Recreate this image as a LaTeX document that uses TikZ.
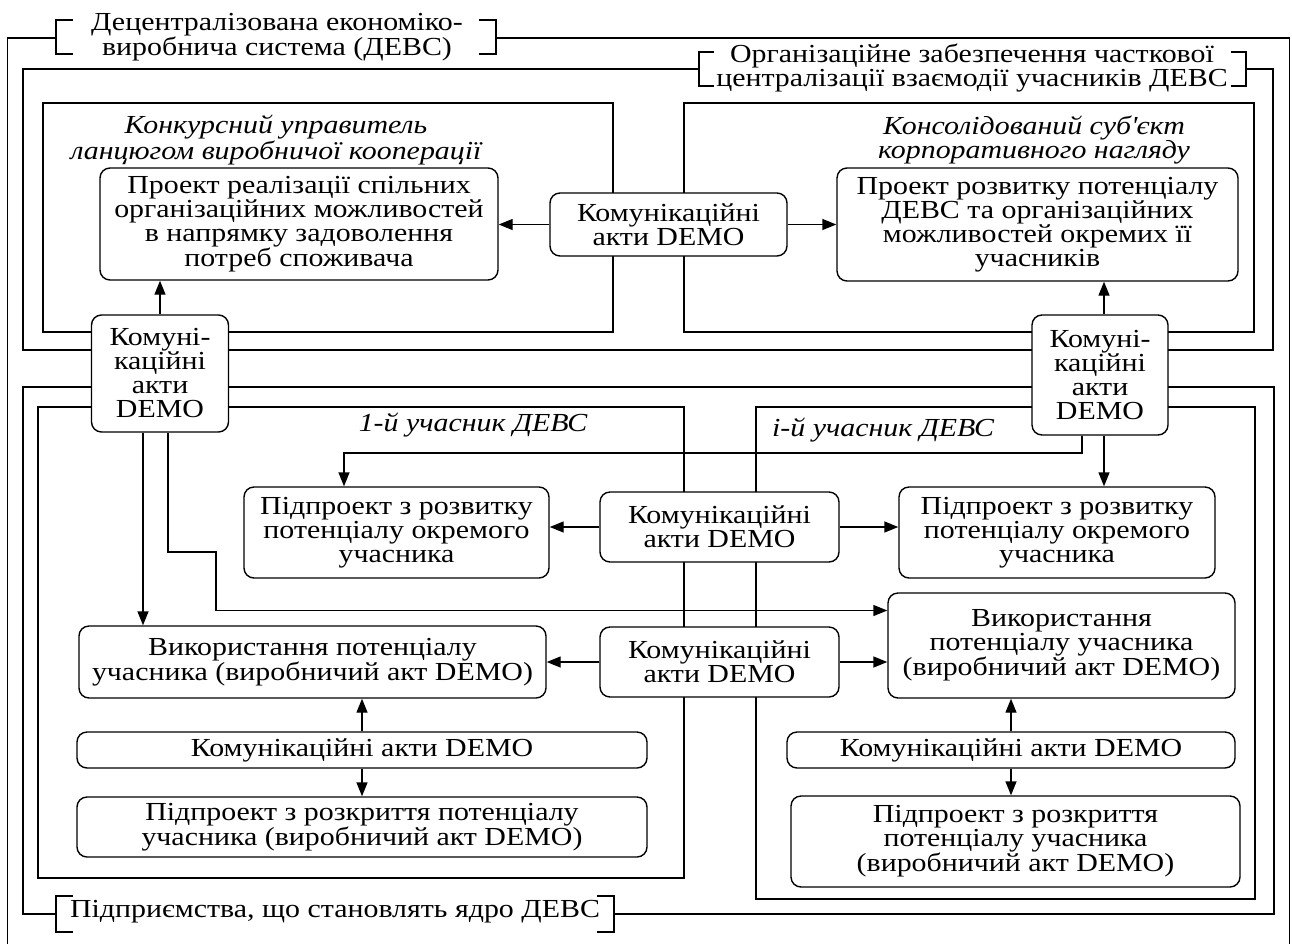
\documentclass[tikz,border=0pt]{standalone}
\usepackage{fontspec}
\setmainfont{Liberation Serif}[FakeStretch=1.15]
\usetikzlibrary{arrows.meta}

\begin{document}
\begin{tikzpicture}[x=1pt,y=-1pt,line width=1.4pt,
    every node/.style={font=\fontsize{26}{24}\selectfont},
    box/.style={draw,fill=white,rounded corners=10pt,align=center,inner sep=0pt},
    lbl/.style={align=center,inner sep=0pt},
    ttl/.style={align=center,inner sep=0pt,font=\fontsize{26}{24}\selectfont\itshape},
    >={Triangle[length=14pt,width=11pt]}]
    \useasboundingbox (0,0) rectangle (1292,943);
    % outer frame
    \draw (56,38) -- (7.5,38) -- (7.5,960);
    \draw (496,38) -- (1289.5,38) -- (1289.5,960);
    \draw (73,20) -- (56,20) -- (56,54) -- (73,54);
    \draw (479,20) -- (496,20) -- (496,54) -- (479,54);
    \node[lbl] (devs) at (277,37) {Децентралізована економіко-\\виробнича система (ДЕВС)};
    % organisational frame
    \draw (699,69) -- (23,69) -- (23,350) -- (1273,350) -- (1273,69) -- (1246,69);
    \draw (714,52) -- (699,52) -- (699,86) -- (714,86);
    \draw (1231,52) -- (1246,52) -- (1246,86) -- (1231,86);
    \node[lbl] (org) at (972,68) {Організаційне забезпечення часткової\\централізації взаємодії учасників ДЕВС};
    \draw (43,103) rectangle (613,332);
    \draw (684,103) rectangle (1254,332);
    \node[ttl] (upr) at (276,140) {Конкурсний управитель\\ланцюгом виробничої кооперації};
    \node[ttl] (nag) at (1034,140) {Консолідований суб\textquotesingle єкт\\корпоративного нагляду};
    % enterprises frame
    \draw (56,914) -- (23,914) -- (23,387) -- (1274,387) -- (1274,914) -- (614,914);
    \draw (73,896) -- (56,896) -- (56,932) -- (73,932);
    \draw (597,896) -- (614,896) -- (614,932) -- (597,932);
    \node[lbl] (yadro) at (335,912) {Підприємства, що становлять ядро ДЕВС};
    \draw (38,407) rectangle (684,878);
    \draw (756,407) rectangle (1255,899);
    \node[ttl] (uch1) at (473,425) {1-й учасник ДЕВС};
    \node[ttl] (uchi) at (883,430) {і-й учасник ДЕВС};

    \node[box,minimum width=398pt,minimum height=112pt] (P1) at (299,224) {Проект реалізації спільних\\організаційних можливостей\\в напрямку задоволення\\потреб споживача};
    \node[box,minimum width=237pt,minimum height=63pt] (C1) at (668.5,224.5) {Комунікаційні\\акти DEMO};
    \node[box,minimum width=401pt,minimum height=113pt] (P2) at (1037.5,224.5) {Проект розвитку потенціалу\\ДЕВС та організаційних\\можливостей окремих її\\учасників};
    \node[box,minimum width=137pt,minimum height=117pt] (CL) at (160,373.5) {Комуні-\\каційні\\акти\\DEMO};
    \node[box,minimum width=136pt,minimum height=120pt] (CR) at (1100,375) {Комуні-\\каційні\\акти\\DEMO};

    \node[box,minimum width=305pt,minimum height=91pt] (S1) at (396.5,532.5) {Підпроект з розвитку\\потенціалу окремого\\учасника};
    \node[box,minimum width=239pt,minimum height=70pt] (C2) at (719.5,527) {Комунікаційні\\акти DEMO};
    \node[box,minimum width=316pt,minimum height=91pt] (S2) at (1057,532.5) {Підпроект з розвитку\\потенціалу окремого\\учасника};
    \node[box,minimum width=467pt,minimum height=72pt] (U1) at (312.5,662) {Використання потенціалу\\учасника (виробничий акт DEMO)};
    \node[box,minimum width=239pt,minimum height=70pt] (C3) at (719.5,662) {Комунікаційні\\акти DEMO};
    \node[box,minimum width=347pt,minimum height=105pt] (U2) at (1061.5,645.5) {Використання\\потенціалу учасника\\(виробничий акт DEMO)};
    \node[box,minimum width=570pt,minimum height=36pt] (K1) at (362,750) {Комунікаційні акти DEMO};
    \node[box,minimum width=570pt,minimum height=60pt] (D1) at (362,827) {Підпроект з розкриття потенціалу\\учасника (виробничий акт DEMO)};
    \node[box,minimum width=448pt,minimum height=36pt] (K2) at (1011,750) {Комунікаційні акти DEMO};
    \node[box,minimum width=449pt,minimum height=91pt] (D2) at (1015.5,841.5) {Підпроект з розкриття\\потенціалу учасника\\(виробничий акт DEMO)};

    \coordinate (bendL) at (216,552);
    \coordinate (bendR) at (344,453);
    \draw[->] (C1.west) -- (C1.west -| P1.east);
    \draw[->] (C1.east) -- (C1.east -| P2.west);
    \draw[->] (CL.north) -- (CL.north |- P1.south);
    \draw[->] ([xshift=4pt]CR.north) -- ([xshift=4pt]CR.north |- P2.south);
    \draw[->] ([xshift=-17pt]CL.south) -- ([xshift=-17pt]CL.south |- U1.north);
    \draw[->] ([xshift=8pt]CL.south) |- (bendL) |- ([yshift=35pt]U2.west);
    \draw[->] ([xshift=-18pt]CR.south) |- (bendR) -- (bendR |- S1.north);
    \draw[->] ([xshift=4pt]CR.south) -- ([xshift=4pt]CR.south |- S2.north);
    \draw[->] (C2.west) -- (C2.west -| S1.east);
    \draw[->] (C2.east) -- (C2.east -| S2.west);
    \draw[->] (C3.west) -- (C3.west -| U1.east);
    \draw[->] (C3.east) -- (C3.east -| U2.west);
    \draw[->] (K1.north) -- (K1.north |- U1.south);
    \draw[->] (K1.south) -- (K1.south |- D1.north);
    \draw[->] (K2.north) -- (K2.north |- U2.south);
    \draw[->] (K2.south) -- (K2.south |- D2.north);
\end{tikzpicture}
\end{document}
